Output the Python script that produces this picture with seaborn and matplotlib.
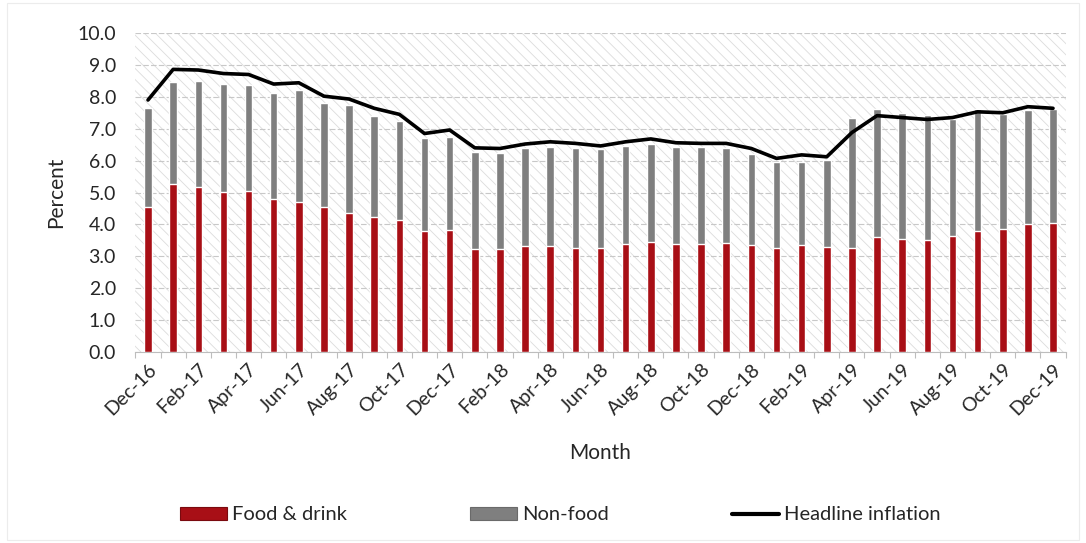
import numpy as np
import pandas as pd
import matplotlib
matplotlib.use("Agg")
import matplotlib.pyplot as plt
from matplotlib.patches import Rectangle, Patch
from matplotlib.lines import Line2D
import seaborn as sns

months = ["Dec-16", "Jan-17", "Feb-17", "Mar-17", "Apr-17", "May-17", "Jun-17",
          "Jul-17", "Aug-17", "Sep-17", "Oct-17", "Nov-17", "Dec-17", "Jan-18",
          "Feb-18", "Mar-18", "Apr-18", "May-18", "Jun-18", "Jul-18", "Aug-18",
          "Sep-18", "Oct-18", "Nov-18", "Dec-18", "Jan-19", "Feb-19", "Mar-19",
          "Apr-19", "May-19", "Jun-19", "Jul-19", "Aug-19", "Sep-19", "Oct-19",
          "Nov-19", "Dec-19"]

# contribution of food & drink (bottom segment)
food = [4.55, 5.27, 5.16, 5.03, 5.05, 4.80, 4.69, 4.54, 4.37, 4.24, 4.14, 3.78,
        3.82, 3.22, 3.22, 3.32, 3.32, 3.27, 3.27, 3.38, 3.46, 3.38, 3.38, 3.41,
        3.35, 3.27, 3.35, 3.30, 3.27, 3.60, 3.54, 3.51, 3.64, 3.79, 3.85, 4.01,
        4.03]

# contribution of non-food (upper segment)
nonfood = [3.09, 3.20, 3.33, 3.37, 3.32, 3.33, 3.52, 3.26, 3.37, 3.16, 3.11, 2.92,
           2.91, 3.06, 3.03, 3.06, 3.12, 3.13, 3.08, 3.08, 3.05, 3.06, 3.04, 2.97,
           2.86, 2.70, 2.62, 2.72, 4.06, 4.01, 3.94, 3.92, 3.66, 3.82, 3.60, 3.58,
           3.58]

headline = [7.90, 8.86, 8.84, 8.73, 8.70, 8.40, 8.44, 8.02, 7.93, 7.64, 7.45, 6.85,
            6.96, 6.40, 6.38, 6.52, 6.59, 6.54, 6.46, 6.59, 6.68, 6.56, 6.54, 6.54,
            6.38, 6.07, 6.18, 6.12, 6.88, 7.41, 7.35, 7.29, 7.35, 7.53, 7.50, 7.69,
            7.64]

y_ticks = [0, 1, 2, 3, 4, 5, 6, 7, 8, 9, 10]

df = pd.DataFrame({
    "Month": months,
    "Food": food,
    "Total": np.array(food) + np.array(nonfood),
    "Headline": headline,
    "pos": np.arange(len(months)),
})

RED = "#a80f16"
GREY = "#7f7f7f"

sns.set_theme(style="white")
plt.rcParams["font.family"] = ["Lato", "DejaVu Sans"]
plt.rcParams["hatch.linewidth"] = 0.6

fig = plt.figure(figsize=(10.86, 5.43), dpi=100)
ax = fig.add_axes([0.1247, 0.3517, 0.8565, 0.5875])

# patterned plot-area fill
ax.add_patch(Rectangle((0, 0), 1, 1, transform=ax.transAxes, facecolor="white",
                       edgecolor="#dcdcdc", hatch="\\\\\\", linewidth=0, zorder=0))

sns.barplot(data=df, x="Month", y="Total", color=GREY, width=0.3,
            saturation=1, order=months, ax=ax, zorder=2)
sns.barplot(data=df, x="Month", y="Food", color=RED, width=0.3,
            saturation=1, order=months, ax=ax, zorder=3)
sns.lineplot(data=df, x="pos", y="Headline", color="black", linewidth=2.6,
             ax=ax, zorder=4)

ax.set_xlim(-0.5, len(months) - 0.5)
ax.set_ylim(0, 10)
ax.set_yticks(y_ticks)
ax.set_yticklabels([f"{v:.1f}" for v in y_ticks], fontsize=14)
ax.yaxis.grid(True, color="#c8c8c8", linestyle=(0, (5, 2)), linewidth=0.8, zorder=1)
ax.set_axisbelow(True)

ax.set_xticks(np.arange(0, len(months), 2))
ax.set_xticklabels(months[::2], rotation=45, ha="right", rotation_mode="anchor",
                   fontsize=14)
ax.set_xticks(np.arange(-0.5, len(months), 1), minor=True)
ax.tick_params(axis="x", which="major", length=0, pad=6)
ax.tick_params(axis="x", which="minor", length=4, color="#bdbdbd", width=0.8,
               direction="out", bottom=True)
ax.tick_params(axis="y", length=0, pad=14)

for side in ["left", "right", "top"]:
    ax.spines[side].set_visible(False)
ax.spines["bottom"].set_color("#bdbdbd")
ax.spines["bottom"].set_linewidth(0.8)

ax.set_xlabel("Month", fontsize=15, labelpad=18)
ax.set_ylabel("Percent", fontsize=15, labelpad=8)

handles = [
    Patch(facecolor=RED, edgecolor="#7a0a0f", linewidth=0.8),
    Patch(facecolor=GREY, edgecolor="#6a6a6a", linewidth=0.8),
    Line2D([0], [0], color="black", linewidth=3),
]
fig.legend(handles, ["Food & drink", "Non-food", "Headline inflation"],
           loc="center", bbox_to_anchor=(0.516, 0.052), ncol=3, frameon=False,
           fontsize=14.5, handlelength=2.35, handleheight=0.6, handletextpad=0.25,
           columnspacing=6.1)

# chart-area border
fig.patches.append(Rectangle((0.006, 0.006), 0.988, 0.988, transform=fig.transFigure,
                             fill=False, edgecolor="#ececec", linewidth=0.8))

fig.savefig("out.png", dpi=100)
